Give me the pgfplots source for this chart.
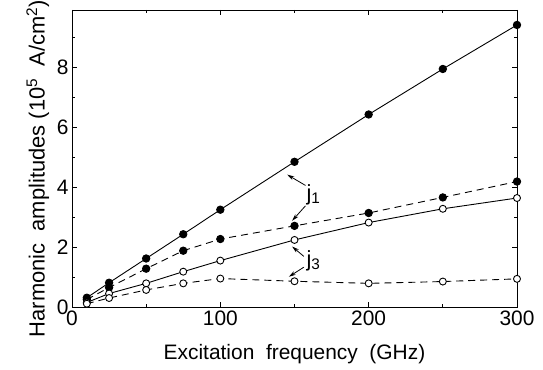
\documentclass[border=0pt]{standalone}
\usepackage{pgfplots}
\pgfplotsset{compat=1.18}
\usepackage{fontspec}
\setmainfont{Liberation Sans}
\usetikzlibrary{arrows.meta}

\pgfplotstableread{
x   a     b     c     d
10  0.31  0.25  0.15  0.11
25  0.81  0.65  0.45  0.30
50  1.62  1.28  0.79  0.57
75  2.43  1.88  1.18  0.79
100 3.25  2.27  1.55  0.95
150 4.85  2.71  2.24  0.86
200 6.43  3.14  2.82  0.79
250 7.95  3.66  3.28  0.85
300 9.42  4.19  3.64  0.94
}\datatable

\begin{document}
\begin{tikzpicture}
\useasboundingbox (0,0) rectangle (543bp,370bp);
\begin{axis}[
  at={(72bp,63bp)}, anchor=south west,
  scale only axis, width=445bp, height=297bp,
  xmin=0, xmax=300, ymin=0, ymax=9.92,
  xtick={0,100,200,300}, minor xtick={50,150,250},
  ytick={0,2,4,6,8}, minor ytick={1,3,5,7,9},
  tick align=inside, major tick length=5bp, minor tick length=3bp,
  every tick/.style={black, line width=0.8bp},
  axis line style={line width=0.8bp},
  tick label style={font=\fontsize{21}{24}\selectfont},
  /pgf/number format/assume math mode=true,
  label style={font=\fontsize{21}{24}\selectfont},
  xlabel={Excitation\ \ frequency\ \ (GHz)},
  xlabel style={at={(rel axis cs:0.5,0)}, anchor=base, yshift=-52bp},
  ylabel={Harmonic\ \ amplitudes (10\textsuperscript{5}\ \ A/cm\textsuperscript{2})},
  ylabel style={font=\fontsize{22}{25}\selectfont, at={(rel axis cs:0,0.466)}, anchor=base, yshift=27.5bp},
  clip=false,
]
\addplot[black, line width=0.9bp, mark=*, mark size=3.7bp] table[x=x,y=a] {\datatable};
\addplot[black, line width=0.9bp, dash pattern=on 7bp off 5bp, mark=*, mark size=3.7bp, mark options={solid}] table[x=x,y=b] {\datatable};
\addplot[black, line width=0.9bp, mark=*, mark size=3.5bp, mark options={fill=white}] table[x=x,y=c] {\datatable};
\addplot[black, line width=0.9bp, dash pattern=on 7bp off 5bp, mark=*, mark size=3.5bp, mark options={solid, fill=white}] table[x=x,y=d] {\datatable};

\draw[-{Stealth[length=7bp,width=4bp]}, line width=0.8bp] (axis cs:157.4,4.06) -- (axis cs:145.1,4.42);
\draw[-{Stealth[length=7bp,width=4bp]}, line width=0.8bp] (axis cs:157.4,3.38) -- (axis cs:148.4,2.88);
\draw[-{Stealth[length=7bp,width=4bp]}, line width=0.8bp] (axis cs:156.3,1.69) -- (axis cs:148.4,2.02);
\draw[-{Stealth[length=7bp,width=4bp]}, line width=0.8bp] (axis cs:156.3,1.33) -- (axis cs:146.2,1.01);
\node[font=\fontsize{22}{25}\selectfont, anchor=west, inner sep=0pt] at (axis cs:158.0,3.75) {j\textsubscript{1}};
\node[font=\fontsize{22}{25}\selectfont, anchor=west, inner sep=0pt] at (axis cs:158.0,1.55) {j\textsubscript{3}};
\end{axis}
\end{tikzpicture}
\end{document}
